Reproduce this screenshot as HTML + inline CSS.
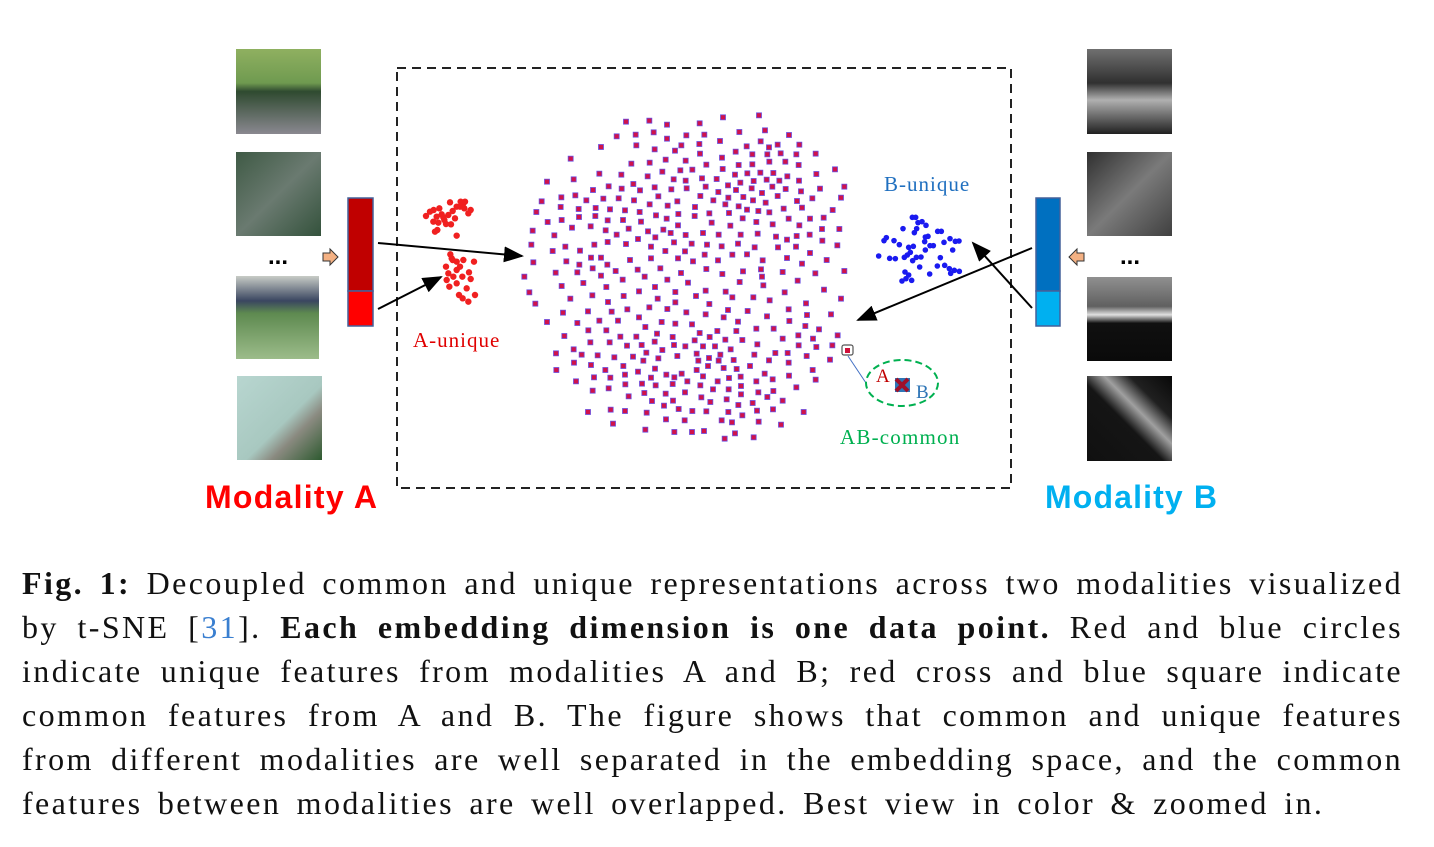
<!DOCTYPE html>
<html><head><meta charset="utf-8"><style>
html,body{margin:0;padding:0;background:#fff;}
body{width:1434px;height:847px;position:relative;overflow:hidden;}
svg{position:absolute;left:0;top:0;}
.cap{position:absolute;left:22px;width:1381px;font-family:"Liberation Serif",serif;font-size:32px;letter-spacing:2.4px;color:#111;text-align:justify;text-align-last:justify;white-space:nowrap;line-height:44px;height:44px;}
</style></head><body>
<svg width="1434" height="847" viewBox="0 0 1434 847">
<defs>
<marker id="ah" markerWidth="10" markerHeight="8" refX="9" refY="4" orient="auto"><path d="M0,0 L10,4 L0,8 z" fill="#000"/></marker>
<linearGradient id="imA1" x1="0" y1="0" x2="0" y2="1"><stop offset="0" stop-color="#8fb060"/><stop offset="0.4" stop-color="#6f9a50"/><stop offset="0.5" stop-color="#2f4a30"/><stop offset="1" stop-color="#8a8890"/></linearGradient>
<linearGradient id="imA2" x1="0" y1="0" x2="1" y2="1"><stop offset="0" stop-color="#3f5a45"/><stop offset="0.5" stop-color="#6a7a70"/><stop offset="1" stop-color="#34523c"/></linearGradient>
<linearGradient id="imA3" x1="0" y1="0" x2="0" y2="1"><stop offset="0" stop-color="#c8ccc6"/><stop offset="0.3" stop-color="#3a4660"/><stop offset="0.45" stop-color="#5e8a50"/><stop offset="1" stop-color="#9cbc8a"/></linearGradient>
<linearGradient id="imA4" x1="0" y1="0" x2="1" y2="1"><stop offset="0" stop-color="#b8d6d0"/><stop offset="0.55" stop-color="#a8c8c0"/><stop offset="0.7" stop-color="#8a8a80"/><stop offset="1" stop-color="#2e5a30"/></linearGradient>
<linearGradient id="imB1" x1="0" y1="0" x2="0" y2="1"><stop offset="0" stop-color="#707070"/><stop offset="0.4" stop-color="#303030"/><stop offset="0.6" stop-color="#b0b0b0"/><stop offset="1" stop-color="#202020"/></linearGradient>
<linearGradient id="imB2" x1="0" y1="0" x2="1" y2="1"><stop offset="0" stop-color="#303030"/><stop offset="0.5" stop-color="#7a7a7a"/><stop offset="1" stop-color="#404040"/></linearGradient>
<linearGradient id="imB3" x1="0" y1="0" x2="0" y2="1"><stop offset="0" stop-color="#909090"/><stop offset="0.35" stop-color="#606060"/><stop offset="0.45" stop-color="#e0e0e0"/><stop offset="0.55" stop-color="#101010"/><stop offset="1" stop-color="#0a0a0a"/></linearGradient>
<linearGradient id="imB4" x1="0" y1="1" x2="1" y2="0"><stop offset="0" stop-color="#101010"/><stop offset="0.45" stop-color="#151515"/><stop offset="0.6" stop-color="#a0a0a0"/><stop offset="0.75" stop-color="#202020"/><stop offset="1" stop-color="#080808"/></linearGradient>
</defs>
<g>
<rect x="236" y="49" width="85" height="85" fill="url(#imA1)"/>
<rect x="236" y="152" width="85" height="84" fill="url(#imA2)"/>
<rect x="236" y="276" width="83" height="83" fill="url(#imA3)"/>
<rect x="237" y="376" width="85" height="84" fill="url(#imA4)"/>
</g>
<g>
<rect x="1087" y="49" width="85" height="85" fill="url(#imB1)"/>
<rect x="1087" y="152" width="85" height="84" fill="url(#imB2)"/>
<rect x="1087" y="277" width="85" height="84" fill="url(#imB3)"/>
<rect x="1087" y="376" width="85" height="85" fill="url(#imB4)"/>
</g>
<text x="268" y="264" font-family="Liberation Sans,sans-serif" font-weight="bold" font-size="24">...</text>
<text x="1120" y="264" font-family="Liberation Sans,sans-serif" font-weight="bold" font-size="24">...</text>
<path d="M323,253 h7 v-4 l8,8 l-8,8 v-4 h-7 z" fill="#f4b183" stroke="#333" stroke-width="1"/>
<path d="M1084,253 h-7 v-4 l-8,8 l8,8 v-4 h7 z" fill="#f4b183" stroke="#333" stroke-width="1"/>
<g>
<rect x="348" y="198" width="25" height="93" fill="#c00000" stroke="#44609a" stroke-width="1.5"/>
<rect x="348" y="291" width="25" height="35" fill="#ff0000" stroke="#44609a" stroke-width="1.5"/>
</g>
<g>
<rect x="1036" y="198" width="24" height="93" fill="#0070c0" stroke="#44609a" stroke-width="1.5"/>
<rect x="1036" y="291" width="24" height="35" fill="#00b0f0" stroke="#44609a" stroke-width="1.5"/>
</g>
<rect x="397" y="68" width="614" height="420" fill="none" stroke="#222" stroke-width="2" stroke-dasharray="9,6"/>
<g id="cloud"></g>
<g id="redpts"></g>
<g id="bluepts"></g>
<line x1="378" y1="243" x2="522" y2="256" stroke="#000" stroke-width="2" marker-end="url(#ah)"/>
<line x1="378" y1="309" x2="441" y2="277" stroke="#000" stroke-width="2" marker-end="url(#ah)"/>
<line x1="1032" y1="248" x2="858" y2="320" stroke="#000" stroke-width="2" marker-end="url(#ah)"/>
<line x1="1032" y1="308" x2="973" y2="243" stroke="#000" stroke-width="2" marker-end="url(#ah)"/>
<text x="413" y="347" font-family="Liberation Serif,serif" font-size="21" letter-spacing="1" fill="#e00000">A-unique</text>
<text x="884" y="191" font-family="Liberation Serif,serif" font-size="21" letter-spacing="1" fill="#1f6fbf">B-unique</text>
<rect x="842" y="345" width="11" height="10" rx="2" fill="none" stroke="#555" stroke-width="1.2"/>
<rect x="845" y="348" width="5" height="5" fill="#d0103a"/>
<line x1="848" y1="356" x2="866" y2="383" stroke="#4472c4" stroke-width="1"/>
<ellipse cx="902" cy="383" rx="36" ry="23" fill="none" stroke="#00b050" stroke-width="2" stroke-dasharray="7,4"/>
<text x="876" y="382" font-family="Liberation Serif,serif" font-size="19" fill="#c00000">A</text>
<rect x="895" y="378" width="15" height="14" fill="#2e75b6"/>
<path d="M896,379 l12,12 M908,379 l-12,12" stroke="#a0102a" stroke-width="4"/>
<text x="916" y="398" font-family="Liberation Serif,serif" font-size="19" fill="#2e75b6">B</text>
<text x="840" y="444" font-family="Liberation Serif,serif" font-size="21" letter-spacing="1.2" fill="#00b050">AB-common</text>
<text x="205" y="508" font-family="Liberation Sans,sans-serif" font-weight="bold" font-size="32" textLength="172" fill="#ff0000">Modality A</text>
<text x="1045" y="508" font-family="Liberation Sans,sans-serif" font-weight="bold" font-size="32" textLength="172" fill="#00b0f0">Modality B</text>
</svg>

<div class="cap" style="top:561px"><b>Fig. 1:</b> Decoupled common and unique representations across two modalities visualized</div>
<div class="cap" style="top:605px">by t-SNE [<span style="color:#3a7fd0">31</span>]. <b>Each embedding dimension is one data point.</b> Red and blue circles</div>
<div class="cap" style="top:649px">indicate unique features from modalities A and B; red cross and blue square indicate</div>
<div class="cap" style="top:693px">common features from A and B. The figure shows that common and unique features</div>
<div class="cap" style="top:737px">from different modalities are well separated in the embedding space, and the common</div>
<div class="cap" style="top:781px;text-align-last:left;word-spacing:5px">features between modalities are well overlapped. Best view in color &amp; zoomed in.</div>

<script>
// common cloud coordinates (t-SNE units, from reference)
const cloudPts = [[318,35],[388,32],[441,44],[539,40],[609,22],[717,16],[290,79],[347,74],[401,67],[441,86],[499,76],[553,74],[658,66],[735,61],[807,75],[243,111],[349,106],[404,118],[465,122],[484,106],[538,102],[600,93],[680,109],[722,94],[747,112],[773,104],[838,104],
[152,146],[540,131],[647,125],[697,133],[742,133],[782,130],[829,133],[887,131],[334,161],[389,158],[437,149],[497,152],[559,164],[606,143],[656,165],[697,163],[748,155],[796,155],[836,165],
[238,191],[304,194],[383,199],[427,185],[481,181],[517,179],[608,177],[645,194],[682,190],[721,188],[760,189],[802,199],[889,192],[945,178],[81,215],[161,208],[340,222],[461,208],[497,212],[546,205],[590,207],[661,218],[701,213],[740,209],[778,212],[837,212],
[219,240],[266,229],[305,236],[360,241],[404,232],[454,238],[500,235],[557,230],[595,246],[624,226],[648,240],[695,235],[726,249],[757,230],[797,237],[843,244],[900,236],[973,230],[65,274],[124,262],[166,256],[199,271],[250,266],[296,265],[342,271],[415,259],[472,274],[541,258],[580,271],[625,263],[670,261],[699,271],[737,278],[773,258],[831,273],[877,265],[963,263],
[49,306],[122,291],[176,297],[227,294],[270,298],[315,301],[359,306],[389,283],[443,287],[475,312],[525,291],[568,310],[616,283],[656,289],[681,299],[715,303],[748,307],[791,296],[846,293],[938,300],[83,336],[125,330],[177,321],[226,318],[263,331],[309,330],[363,335],[408,316],[440,326],[474,346],[524,318],[575,338],[627,309],[668,325],[709,336],[758,343],[806,326],[838,346],[870,326],[911,323],
[38,362],[103,376],[156,353],[212,349],[257,361],[290,374],[326,356],[384,364],[406,382],[430,359],[452,369],[497,375],[549,369],[596,374],[631,347],[662,374],[713,371],[768,380],[801,389],[830,378],[869,374],[906,357],[958,357],[34,404],[98,423],[136,410],[180,422],[223,404],[263,396],[318,402],[354,387],[393,410],[436,423],[462,397],[495,424],[515,401],[554,434],[561,404],[605,409],[654,401],[704,412],[774,412],[828,410],[907,392],[952,406],
[40,457],[139,454],[178,464],[213,443],[243,443],[262,464],[330,450],[393,445],[474,445],[519,454],[594,451],[637,434],[681,433],[728,451],[801,444],[846,461],[870,429],[920,450],[13,500],[107,488],[172,487],[218,475],[243,497],[287,483],[353,479],[374,500],[421,475],[483,489],[442,509],[559,477],[607,492],[669,484],[723,478],[726,500],[788,486],[886,490],[973,483],
[125,528],[190,519],[259,531],[308,509],[357,544],[405,531],[466,546],[504,518],[557,542],[617,545],[659,516],[730,526],[833,512],[912,539],[28,547],[151,566],[217,556],[264,576],[311,558],[413,566],[466,577],[528,558],[568,582],[637,562],[700,562],[749,571],[794,547],[858,580],[963,566],[46,581],
[129,608],[204,604],[275,605],[322,598],[388,592],[442,597],[499,607],[557,613],[624,600],[683,603],[741,619],[806,598],[861,615],[933,613],[81,636],[172,639],[238,632],[294,632],[357,622],[425,636],[466,641],[516,643],[611,622],[654,635],[808,633],[856,648],
[133,678],[205,661],[259,661],[301,680],[349,680],[376,651],[411,671],[458,681],[539,669],[569,681],[592,663],[616,689],[649,663],[709,656],[761,656],[835,676],[879,686],[897,658],[953,676],[211,697],[269,697],[321,707],[365,705],[404,695],[427,720],[462,705],[496,709],[524,691],[549,709],[585,709],[632,718],[667,690],[712,703],[788,686],[836,706],[889,711],[937,706],
[108,730],[161,718],[185,734],[233,736],[283,742],[339,740],[379,728],[415,745],[472,738],[530,731],[567,744],[601,734],[641,750],[703,734],[766,729],[803,729],[860,738],[930,749],[162,758],[213,765],[310,768],[370,752],[535,752],[596,752],[747,751],[806,758],[109,780],[256,780],[354,785],[405,776],[439,794],[485,791],[530,780],[564,768],[611,774],[650,777],[690,768],[734,791],[878,780],
[168,814],[222,802],[271,803],[315,794],[393,803],[463,802],[502,814],[549,799],[593,814],[627,804],[662,800],[709,814],[758,808],[807,797],[887,809],[218,842],[266,835],[316,823],[366,821],[407,826],[458,822],[541,826],[579,838],[626,838],[663,828],[715,847],[760,843],[829,832],[326,859],[373,849],[437,851],[495,847],[544,862],[620,868],[663,853],[742,861],
[396,873],[459,872],[571,876],[698,879],[788,872],[432,887],[476,897],[517,903],[559,904],[655,885],[711,902],[759,898],[204,906],[272,899],[315,903],[380,908],[625,906],[667,916],[851,906],[279,941],[438,928],[494,931],[605,931],[636,937],[716,935],[783,944],[376,959],[463,966],[516,966],[552,963],[614,986],[645,970],[701,982]];
const redPts = [[588,528],[600,515],[611,510],[628,505],[635,523],[620,530],[610,545],[625,548],[643,540],[655,525],[660,487],[668,513],[675,535],[680,500],[692,485],[700,490],[703,505],[715,520],[722,510],[705,485],[690,500],[615,575],[622,570],[680,587],[663,553],[648,552],[640,532],
[661,643],[648,680],[668,660],[680,665],[690,680],[700,660],[732,665],[655,700],[670,710],[680,690],[697,710],[717,697],[722,717],[680,730],[658,740],[687,765],[698,775],[715,785],[735,765],[650,720],[710,745],[665,655]];
const bluePts = [[277,172],[287,172],[294,188],[306,185],[318,196],[290,206],[283,218],[249,206],[192,242],[199,233],[222,242],[238,254],[266,262],[280,259],[316,231],[324,229],[353,214],[364,214],[314,245],[330,257],[340,257],[372,247],[390,236],[406,244],[417,243],[398,270],[176,288],[209,295],[226,296],[253,292],[262,285],[278,302],[289,292],[303,291],[271,277],[316,270],[361,293],[352,318],[374,316],[388,326],[403,331],[418,334],[392,340],[299,321],[329,342],[255,336],[266,345],[275,361],[246,363],[258,356]];

const NS='http://www.w3.org/2000/svg';
const cx = v => 520 + v/3, cy = v => 110 + v/3;
const rx = v => 230 + v/3, ry = v => 40 + v/3;
const bx = v => 820 + v/3, by = v => 160 + v/3;
const cloud=document.getElementById('cloud');
cloudPts.forEach(p=>{
  const r=document.createElementNS(NS,'rect');
  r.setAttribute('x',cx(p[0])-2.5);r.setAttribute('y',cy(p[1])-2.5);
  r.setAttribute('width',5);r.setAttribute('height',5);
  r.setAttribute('fill','#d0124a');r.setAttribute('stroke','#6a4fe0');r.setAttribute('stroke-width','0.8');
  
  
  cloud.appendChild(r);
});
const rg=document.getElementById('redpts');
redPts.forEach(p=>{
  const c=document.createElementNS(NS,'circle');
  c.setAttribute('cx',rx(p[0]));c.setAttribute('cy',ry(p[1]));c.setAttribute('r',3.2);c.setAttribute('fill','#f02020');
  
  
  rg.appendChild(c);
});
const bg=document.getElementById('bluepts');
bluePts.forEach(p=>{
  const c=document.createElementNS(NS,'circle');
  c.setAttribute('cx',bx(p[0]));c.setAttribute('cy',by(p[1]));c.setAttribute('r',2.8);c.setAttribute('fill','#1a1af0');
  
  
  bg.appendChild(c);
});
</script>
</body></html>
